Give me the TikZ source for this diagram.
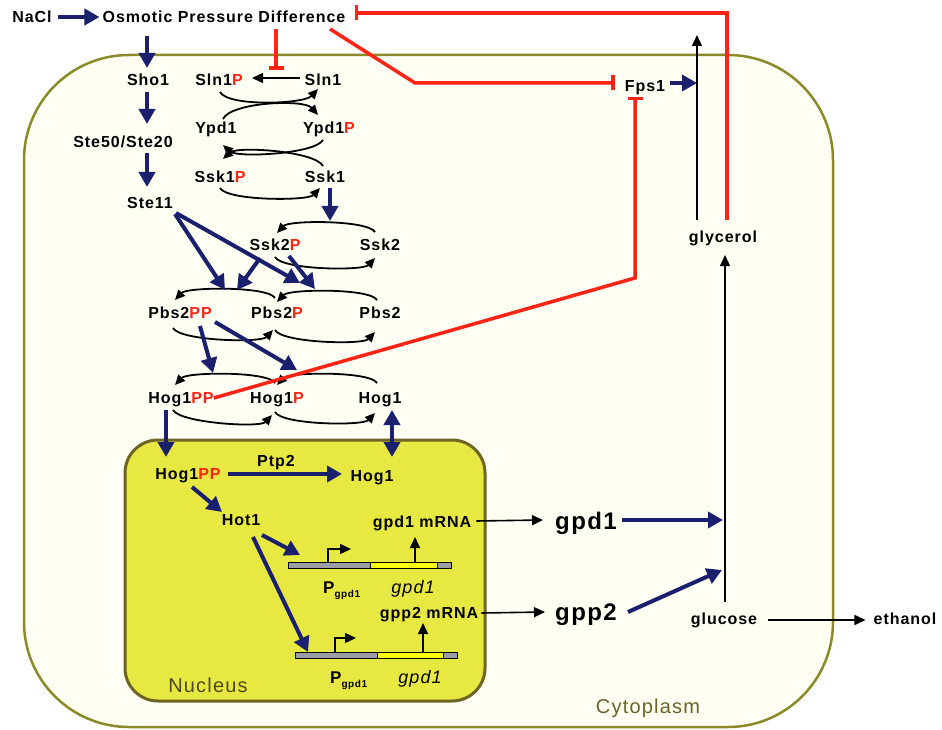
\documentclass[tikz,border=0pt]{standalone}
\usepackage{fontspec}
\setmainfont{Liberation Sans}[LetterSpace=6]
\usetikzlibrary{arrows.meta,calc}
\definecolor{navy}{HTML}{1A1F6E}
\definecolor{inhred}{HTML}{FF2414}
\definecolor{cellline}{HTML}{8C8A28}
\definecolor{cellfill}{HTML}{FFFFF4}
\definecolor{nucfill}{HTML}{E8E842}
\definecolor{nucline}{HTML}{6E6424}
\definecolor{nuctext}{HTML}{4D4A1E}
\definecolor{cyttext}{HTML}{6B6326}
\definecolor{genegray}{HTML}{9C9CA6}
\definecolor{geneyel}{HTML}{FFFF10}
\newcommand\redP[1]{\textcolor{inhred}{#1}}
\begin{document}
\begin{tikzpicture}[x=1pt,y=-1pt,
  lbl/.style={inner sep=0pt, font=\bfseries\fontsize{16}{16}\selectfont, text height=11.5pt, text depth=0pt},
  biglbl/.style={inner sep=0pt, font=\bfseries\fontsize{24}{24}\selectfont, text height=17pt, text depth=0pt},
  region/.style={inner sep=0pt, font=\fontsize{20}{20}\selectfont, text height=14.5pt, text depth=0pt},
  barrow/.style={draw=navy, line width=4pt, -{Triangle[length=15pt,width=16pt]}},
  barrowtwo/.style={draw=navy, line width=4pt, {Triangle[length=15pt,width=16pt]}-{Triangle[length=15pt,width=16pt]}},
  karrow/.style={draw=black, line width=1.6pt, -{Triangle[length=11pt,width=10pt]}},
  karc/.style={draw=black, line width=1.8pt, -{Triangle[length=10pt,width=9pt]}},
  inhib/.style={draw=inhred, line width=3.5pt, -{Bar[width=15pt]}},
  genebox/.style={draw=black, line width=0.8pt},
]
\useasboundingbox (0,0) rectangle (942,730);
\fill[white] (0,0) rectangle (942,730);
% cell and nucleus
\draw[cellline, line width=2.5pt, fill=cellfill, rounded corners=105pt] (24,55) rectangle (833,727);
\draw[nucline, line width=3pt, fill=nucfill, rounded corners=33pt] (125,440) rectangle (485,701);

% labels
\node[lbl] (NaCl) at (32,17) {NaCl};
\node[lbl] (OPD) at (224,17) {Osmotic Pressure Difference};
\node[lbl] (Sho1) at (148,80) {Sho1};
\node[lbl] (Ste50) at (123,142) {Ste50/Ste20};
\node[lbl] (Ste11) at (150,203) {Ste11};
\node[lbl] (Sln1P) at (219,80) {Sln1\redP{P}};
\node[lbl] (Sln1) at (323,80) {Sln1};
\node[lbl] (Ypd1) at (216,128) {Ypd1};
\node[lbl] (Ypd1P) at (329,128) {Ypd1\redP{P}};
\node[lbl] (Ssk1P) at (220,177) {Ssk1\redP{P}};
\node[lbl] (Ssk1) at (325,177) {Ssk1};
\node[lbl] (Ssk2P) at (275,245) {Ssk2\redP{P}};
\node[lbl] (Ssk2) at (380,245) {Ssk2};
\node[lbl] (Pbs2PP) at (180,313) {Pbs2\redP{PP}};
\node[lbl] (Pbs2P) at (277,313) {Pbs2\redP{P}};
\node[lbl] (Pbs2) at (380,313) {Pbs2};
\node[lbl] (Hog1PP) at (181,398) {Hog1\redP{PP}};
\node[lbl] (Hog1P) at (277,398) {Hog1\redP{P}};
\node[lbl] (Hog1) at (380,398) {Hog1};
\node[lbl] (Fps1) at (645,86) {Fps1};
\node[lbl] (glycerol) at (723,237) {glycerol};
\node[lbl] (Hog1PPn) at (188,474) {Hog1\redP{PP}};
\node[lbl] (Ptp2) at (276,461) {Ptp2};
\node[lbl] (Hog1n) at (372,476) {Hog1};
\node[lbl] (Hot1) at (241,520) {Hot1};
\node[lbl] (m1) at (422,522) {gpd1 mRNA};
\node[lbl] (m2) at (429,613) {gpp2 mRNA};
\node[biglbl] (gpd1) at (586,521) {gpd1};
\node[biglbl] (gpp2) at (586,612) {gpp2};
\node[lbl] (glucose) at (724,619) {glucose};
\node[lbl] (ethanol) at (905,619) {ethanol};
\node[inner sep=0pt, anchor=base west, font=\bfseries\fontsize{17}{17}\selectfont] (pg1) at (323,593) {P\raisebox{-4pt}{\fontsize{10}{10}\selectfont gpd1}};
\node[inner sep=0pt, anchor=base, font=\itshape\fontsize{18}{18}\selectfont] (gl1) at (413,593) {gpd1};
\node[inner sep=0pt, anchor=base west, font=\bfseries\fontsize{17}{17}\selectfont] (pg2) at (330,683) {P\raisebox{-4pt}{\fontsize{10}{10}\selectfont gpd1}};
\node[inner sep=0pt, anchor=base, font=\itshape\fontsize{18}{18}\selectfont] (gl2) at (420,683) {gpd1};
\node[region, text=nuctext] (nuc) at (208,685) {Nucleus};
\node[region, text=cyttext] (cyt) at (648,706) {Cytoplasm};

% genes
\coordinate (gene1) at (288,562);
\coordinate (gene2) at (295,652);
\draw[genebox, fill=genegray] (gene1) rectangle (451,568);
\draw[genebox, fill=geneyel] (370,562) rectangle (437,568);
\draw[genebox, fill=genegray] (gene2) rectangle (457,658);
\draw[genebox, fill=geneyel] (377,652) rectangle (443,658);
\draw[karrow, line width=1.4pt] (328,562) |- (351,549);
\draw[karrow, line width=1.4pt] (335,652) |- (356,638);
\draw[karrow, line width=1.4pt] (415,562) -- ($(m1)+(-7,15)$);
\draw[karrow, line width=1.4pt] (423,652) -- ($(m2)+(-6,10)$);

% phosphorelay arcs
\draw[karc] ($(Sln1P)+(1,12)$) .. controls +(8,15) and +(-14,15) .. ($(Sln1)+(-5,9)$);
\draw[karc] ($(Ypd1)+(7,-9)$) .. controls +(8,-17) and +(-14,-16) .. ($(Ypd1P)+(-11,-13)$);
\draw[karc] ($(Ypd1P)+(-6,12)$) .. controls +(-8,14) and +(14,13) .. ($(Ypd1)+(7,17)$);
\draw[karc] ($(Ssk1)+(-2,-11)$) .. controls +(-8,-15) and +(14,-13) .. ($(Ssk1P)+(3,-18)$);
\draw[karc] ($(Ssk1P)+(0,11)$) .. controls +(7,13) and +(-12,13) .. ($(Ssk1)+(-5,11)$);
% Ssk2
\draw[karc] ($(Ssk2)+(-5,-13)$) .. controls +(-7,-12) and +(12,-13) .. ($(Ssk2P)+(2,-12)$);
\draw[karc] ($(Ssk2P)+(0,12)$) .. controls +(7,13) and +(-12,13) .. ($(Ssk2)+(-5,13)$);
% Pbs2
\draw[karc] ($(Pbs2P)+(-2,-15)$) .. controls +(-7,-12) and +(12,-13) .. ($(Pbs2PP)+(-5,-13)$);
\draw[karc] ($(Pbs2)+(-3,-13)$) .. controls +(-7,-12) and +(12,-13) .. ($(Pbs2P)+(0,-11)$);
\draw[karc] ($(Pbs2PP)+(-7,15)$) .. controls +(7,13) and +(-12,13) .. ($(Pbs2P)+(-4,17)$);
\draw[karc] ($(Pbs2P)+(-2,17)$) .. controls +(7,13) and +(-12,13) .. ($(Pbs2)+(-5,19)$);
% Hog1
\draw[karc] ($(Hog1P)+(-2,-15)$) .. controls +(-7,-12) and +(12,-13) .. ($(Hog1PP)+(-6,-13)$);
\draw[karc] ($(Hog1)+(-3,-15)$) .. controls +(-7,-12) and +(12,-13) .. ($(Hog1P)+(0,-13)$);
\draw[karc] ($(Hog1PP)+(-8,12)$) .. controls +(7,13) and +(-12,13) .. ($(Hog1P)+(-5,17)$);
\draw[karc] ($(Hog1P)+(-2,14)$) .. controls +(7,13) and +(-12,13) .. ($(Hog1)+(-5,15)$);

% black arrows
\draw[karrow] ($(Sln1)+(-23,-2)$) -- ($(Sln1P)+(33,-2)$);
\coordinate (outtop) at (697,35);
\draw[karrow, line width=1.3pt] ($(glycerol)+(-26,-17)$) -- (outtop);
\draw[karrow, line width=1.3pt] ($(glucose)+(1,-17)$) -- ($(glycerol)+(2,18)$);
\draw[karrow] ($(glucose.east)+(11,1)$) -- ($(ethanol.west)+(-8,1)$);
\draw[karrow] ($(m1.east)+(5,-1)$) -- ($(gpd1.west)+(-12,-1)$);
\draw[karrow] ($(m2.east)+(3,0)$) -- ($(gpp2.west)+(-10,0)$);

% blue arrows
\draw[barrow, shorten <=6pt, shorten >=3pt] (NaCl.east) -- (OPD.west);
\draw[barrow] ($(Sho1)+(-1,-44)$) -- ($(Sho1)+(-1,-12)$);
\draw[barrow] ($(Sho1)+(-1,12)$) -- ($(Ste50)+(24,-18)$);
\draw[barrow] ($(Ste50)+(24,11)$) -- ($(Ste11)+(-3,-16)$);
\draw[barrow] ($(Ste11)+(25,11)$) -- ($(Pbs2PP)+(45,-23)$);
\draw[barrow] ($(Ste11)+(26,10)$) -- ($(Pbs2P)+(23,-30)$);
\draw[barrow] ($(Ssk1)+(5,11)$) -- ($(Ssk2)+(-50,-24)$);
\draw[barrow] ($(Ssk2P)+(-15,13)$) -- ($(Pbs2PP)+(57,-23)$);
\draw[barrow] ($(Ssk2P)+(14,11)$) -- ($(Pbs2P)+(38,-24)$);
\draw[barrow] ($(Pbs2PP)+(20,13)$) -- ($(Hog1PP)+(32,-25)$);
\draw[barrow] ($(Pbs2PP)+(35,9)$) -- ($(Hog1P)+(20,-28)$);
\draw[barrow] ($(Hog1PP)+(-15,12)$) -- ($(Hog1PPn)+(-22,-17)$);
\draw[barrowtwo] ($(Hog1)+(12,12)$) -- ($(Hog1n)+(20,-19)$);
\draw[barrow] ($(Hog1PPn)+(40,0)$) -- ($(Hog1n)+(-30,-2)$);
\draw[barrow] ($(Hog1PPn)+(4,13)$) -- ($(Hot1)+(-19,-8)$);
\draw[barrow] ($(Hot1)+(21,15)$) -- ($(gene1)+(12,-7)$);
\draw[barrow] ($(Hot1)+(12,17)$) -- ($(gene2)+(13,0)$);
\draw[barrow] ($(Fps1)+(25,-3)$) -- ($(Fps1)+(52,-3)$);
\draw[barrow] ($(gpd1)+(36,-1)$) -- ($(glucose)+(-1,-99)$);
\draw[barrow] ($(gpp2)+(42,0)$) -- ($(glucose)+(-2,-49)$);

% inhibitions
\draw[inhib] ($(OPD)+(52,12)$) -- ($(Sln1)+(-47,-10)$);
\coordinate (fk) at (415,83);
\draw[inhib] ($(OPD)+(106,12)$) -- (fk) -- ($(Fps1.west)+(-10,-3)$);
\coordinate (gk1) at (727,13);
\draw[inhib] ($(glycerol)+(4,-17)$) -- (gk1) -- ($(OPD.east)+(9,-4)$);
\coordinate (hk) at (635,278);
\draw[inhib] (Hog1PP.east) -- (hk) -- ($(Fps1)+(-10,11)$);
\end{tikzpicture}
\end{document}
